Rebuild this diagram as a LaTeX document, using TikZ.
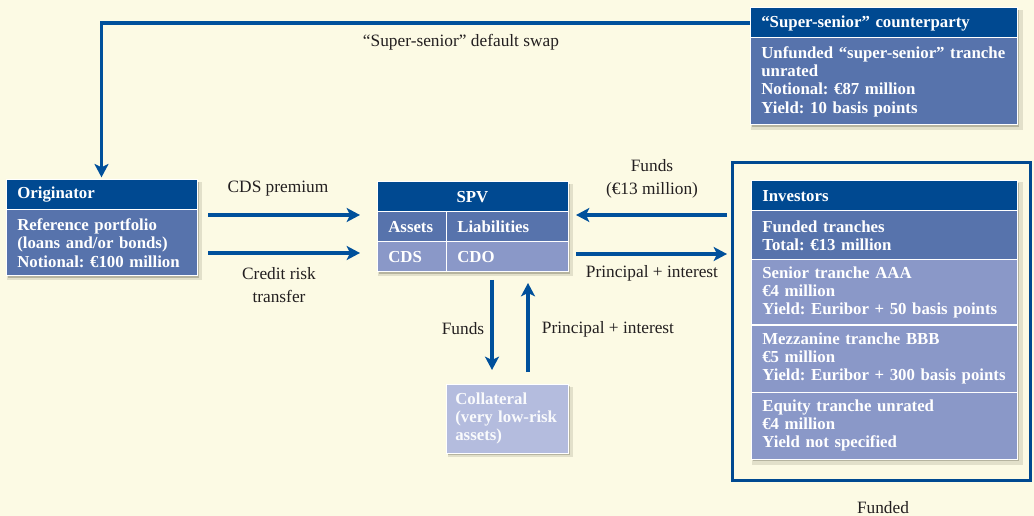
\documentclass[tikz,border=0pt]{standalone}
\usepackage{fontspec}
\setmainfont{Liberation Serif}
\usetikzlibrary{backgrounds, positioning, fit, shadows, arrows.meta, calc}

\definecolor{paper}{RGB}{252,250,228}
\definecolor{navy}{RGB}{0,73,145}
\definecolor{midblue}{RGB}{87,115,172}
\definecolor{liteblue}{RGB}{138,152,200}
\definecolor{paleblue}{RGB}{180,188,222}
\definecolor{flowblue}{RGB}{0,80,155}
\definecolor{ink}{RGB}{35,31,32}
\definecolor{shade}{RGB}{80,80,60}

\begin{document}
\begin{tikzpicture}[
    x=0.75pt, y=-0.75pt,
    every node/.style={outer sep=0pt},
    lbl/.style={text=ink, font=\frenchspacing\fontsize{13}{17}\selectfont, align=center, inner sep=0pt},
    cell/.style={draw=white, line width=0.75pt, text=white,
      font=\frenchspacing\bfseries\fontsize{12.6}{13.7}\selectfont, align=left,
      inner xsep=8.5pt, inner ysep=0pt, minimum height=#1},
    hdr/.style={cell=22.5pt, fill=navy},
    bodymid/.style={cell=#1, fill=midblue},
    bodylite/.style={cell=#1, fill=liteblue},
    flow/.style={draw=flowblue, line width=2.3pt,
      -{Stealth[length=10pt, width=10.5pt, inset=2.5pt]}},
    halo/.style={fill=midblue,
      drop shadow={shadow xshift=1.5pt, shadow yshift=-1.5pt, opacity=0.3, fill=shade},
      drop shadow={shadow xshift=2.5pt, shadow yshift=-2.5pt, shadow scale=1.02, opacity=0.15, fill=shade}}
  ]
  \useasboundingbox (0,0) rectangle (1034,516);
  \begin{scope}[on background layer]
    \fill[paper] (0,0) rectangle (1034,516);
  \end{scope}

  \node[hdr, text width=126.25pt, anchor=north west] (orig) at (6,180) {Originator};
  \node[bodymid=49.5pt, text width=126.25pt, below=0pt of orig] (origbody)
    {Reference portfolio\\(loans and/or bonds)\\Notional: €100 million};

  \node[hdr, text width=183.25pt, anchor=north west] (cpty) at (750,8) {“Super-senior” counterparty};
  \node[bodymid=65.25pt, text width=183.25pt, below=0pt of cpty] (cptybody)
    {Unfunded “super-senior” tranche\\unrated\\Notional: €87 million\\Yield: 10 basis points};

  \node[hdr, text width=126.25pt, align=center, anchor=north west] (spv) at (377,182) {SPV};
  \node[bodymid=22.5pt, text width=34.75pt, below right=0pt and 0pt of spv.south west] (assets) {Assets};
  \node[bodymid=22.5pt, text width=74.5pt, right=0pt of assets] (liab) {Liabilities};
  \node[bodylite=22.5pt, text width=34.75pt, below=0pt of assets] (cds) {CDS};
  \node[bodylite=22.5pt, text width=74.5pt, below=0pt of liab] (cdo) {CDO};

  \node[hdr, text width=182.5pt, anchor=north west] (inv) at (751,181) {Investors};
  \node[bodymid=36.75pt, text width=182.5pt, below=0pt of inv] (funded)
    {Funded tranches\\Total: €13 million};
  \node[bodylite=48.75pt, text width=182.5pt, below=0pt of funded] (senior)
    {Senior tranche AAA\\€4 million\\Yield: Euribor + 50 basis points};
  \node[bodylite=50.25pt, text width=182.5pt, below=0pt of senior] (mezz)
    {Mezzanine tranche BBB\\€5 million\\Yield: Euribor + 300 basis points};
  \node[bodylite=50.25pt, text width=182.5pt, below=0pt of mezz] (equity)
    {Equity tranche unrated\\€4 million\\Yield not specified};
  \node[draw=navy, line width=2.25pt, inner sep=0pt,
    fit={($(inv.north west)+(-19,-18)$) ($(equity.south east)+(13,21)$)}] (invframe) {};

  \node[cell=51.75pt, fill=paleblue, text=white!92!paleblue, inner xsep=7pt, text width=77.5pt,
    anchor=north west] (coll) at (446,384) {Collateral\\(very low-risk\\assets)};

  \begin{scope}[on background layer]
    \node[halo, inner sep=0pt, fit=(orig)(origbody)] {};
    \node[halo, inner sep=0pt, fit=(cpty)(cptybody)] {};
    \node[halo, inner sep=0pt, fit=(spv)(cds)(cdo)] {};
    \node[halo, inner sep=0pt, fit=(inv)(equity)] {};
    \node[halo, inner sep=0pt, fit=(coll)] {};
  \end{scope}

  \draw[flow, shorten >=2pt] (cpty.west) -| (orig.north);
  \draw[flow, shorten <=8.25pt, shorten >=12.75pt] (origbody.east |- 0,215) -- (spv.west |- 0,215);
  \draw[flow, shorten <=8.25pt, shorten >=12.75pt] (origbody.east |- 0,253) -- (cds.west |- 0,253);
  \draw[flow, shorten <=3.75pt, shorten >=6pt] (invframe.west |- 0,215) -- (spv.east |- 0,215);
  \draw[flow, shorten <=6pt, shorten >=3.75pt] (cdo.east |- 0,254) -- (invframe.west |- 0,254);
  \draw[flow, shorten <=6pt, shorten >=10.5pt] (cdo.south -| 492,0) -- (coll.north -| 492,0);
  \draw[flow, shorten <=9pt, shorten >=8.25pt] (coll.north -| 528,0) -- (cdo.south -| 528,0);

  \node[lbl] (lswap) at (461,42) {“Super-senior” default swap};
  \node[lbl] (lprem) at (278,189) {CDS premium};
  \node[lbl] (lrisk) at (279,285) {Credit risk\\transfer};
  \node[lbl] (lfunds) at (652,179) {Funds\\(€13 million)};
  \node[lbl] (lpi) at (652,273) {Principal + interest};
  \node[lbl] (lcfunds) at (463,329) {Funds};
  \node[lbl] (lcpi) at (608,329) {Principal + interest};
  \node[lbl, anchor=base] (lfunded) at (883,513) {Funded};
\end{tikzpicture}
\end{document}
